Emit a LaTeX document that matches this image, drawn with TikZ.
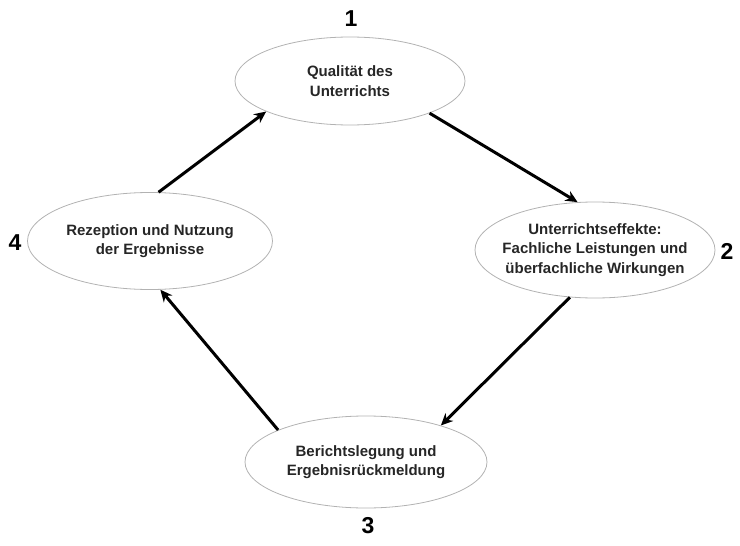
\documentclass[tikz,border=0pt]{standalone}
\usepackage{fontspec}
\setmainfont{Liberation Sans}
\usetikzlibrary{shapes.geometric,arrows.meta}
\begin{document}
\begin{tikzpicture}[x=1pt,y=-1pt,
  ell/.style={draw=black!30, line width=0.8pt, ellipse, inner sep=0pt},
  txt/.style={align=center, font=\bfseries\fontsize{15}{19.5}\selectfont, text=black!85},
  num/.style={font=\bfseries\fontsize{23}{23}\selectfont},
  arr/.style={line width=3pt, -{Stealth[length=12pt,width=11pt]}}]
\useasboundingbox (0,0) rectangle (740,546);
\node[ell, minimum width=230pt, minimum height=88pt] (e1) at (350,81) {};
\node[ell, minimum width=240pt, minimum height=96pt] (e2) at (595,250) {};
\node[ell, minimum width=242pt, minimum height=92pt] (e3) at (366,462) {};
\node[ell, minimum width=245pt, minimum height=97pt] (e4) at (150,241) {};
\node[txt] (t1) at (e1) {Qualität des\\Unterrichts};
\node[txt] (t2) at (e2) {Unterrichtseffekte:\\Fachliche Leistungen und\\überfachliche Wirkungen};
\node[txt] (t3) at (e3) {Berichtslegung und\\Ergebnisrückmeldung};
\node[txt] (t4) at (e4) {Rezeption und Nutzung\\der Ergebnisse};
\node[num] (n1) at (351,19) {1};
\node[num] (n2) at (727,251) {2};
\node[num] (n3) at (368,526) {3};
\node[num] (n4) at (15,243) {4};
\draw[arr] (e1.-22) -- (e2.110);
\draw[arr] (e2.-118) -- (e3.26);
\draw[arr] (e3.160) -- (e4.-78);
\draw[arr] (e4.80) -- (e1.200);
\end{tikzpicture}
\end{document}
